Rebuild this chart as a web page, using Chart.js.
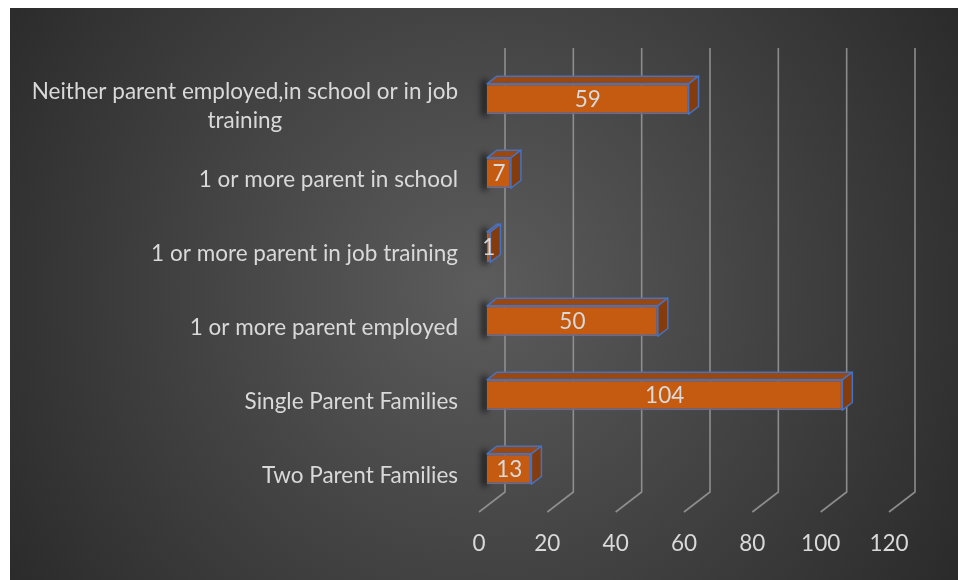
<!DOCTYPE html>
<html>
<head>
<meta charset="utf-8">
<script src="https://cdn.jsdelivr.net/npm/chart.js@4"></script>
<style>
  html, body { margin: 0; padding: 0; background: #fff; }
  #wrap { position: absolute; left: 10px; top: 8px; width: 948px; height: 572px; }
</style>
</head>
<body>
<div id="wrap"><canvas id="familyChart" width="948" height="572"></canvas></div>
<script>
// bottom-to-top order, y axis is reversed below
const categories = [
    'Two Parent Families',
    'Single Parent Families',
    '1 or more parent employed',
    '1 or more parent in job training',
    '1 or more parent in school',
    ['Neither parent employed,in school or in job', 'training']
];
const familyCounts = [13, 104, 50, 1, 7, 59];
const xTicks = [0, 20, 40, 60, 80, 100, 120];

// 3D offsets relative to the bar front faces
const BACK = { dx: 18, dy: -14 };
const FRONT = { dx: -8, dy: 6 };
const DEPTH = { dx: 10, dy: -7.7 };

const TEXT_COLOR = '#d9d9d9';
const FONT = '"Lato", "Open Sans", sans-serif';
const FONT_SIZE = 22.5;

const bar3d = {
    id: 'bar3d',
    beforeDraw(chart) {
        const ctx = chart.ctx;
        const w = chart.width, h = chart.height;
        const g = ctx.createRadialGradient(470, 280, 0, 470, 280, 620);
        g.addColorStop(0, '#5c5c5c');
        g.addColorStop(1, '#252525');
        ctx.save();
        ctx.fillStyle = g;
        ctx.fillRect(0, 0, w, h);
        ctx.restore();
    },
    beforeDatasetsDraw(chart) {
        const ctx = chart.ctx;
        const xs = chart.scales.x;
        const area = chart.chartArea;
        ctx.save();
        ctx.strokeStyle = 'rgba(150,150,150,0.9)';
        ctx.lineWidth = 1.6;
        xTicks.forEach(v => {
            const x = xs.getPixelForValue(v);
            ctx.beginPath();
            ctx.moveTo(x + BACK.dx, area.top + BACK.dy);
            ctx.lineTo(x + BACK.dx, area.bottom + BACK.dy);
            ctx.lineTo(x + FRONT.dx, area.bottom + FRONT.dy);
            ctx.stroke();
        });
        // soft shadow on the left end of each bar
        const meta = chart.getDatasetMeta(0);
        ctx.filter = 'blur(3px)';
        ctx.fillStyle = 'rgba(0,0,0,0.75)';
        meta.data.forEach(bar => {
            const p = bar.getProps(['x', 'y', 'base', 'height'], true);
            const top = p.y - p.height / 2, bottom = p.y + p.height / 2;
            ctx.fillRect(p.base - 5, top - 4, 5, bottom - top + 6);
        });
        ctx.restore();
    },
    afterDatasetsDraw(chart) {
        const ctx = chart.ctx;
        const meta = chart.getDatasetMeta(0);
        ctx.save();
        ctx.strokeStyle = '#4472c4';
        ctx.lineWidth = 1.5;
        ctx.lineJoin = 'round';
        meta.data.forEach((bar, i) => {
            const p = bar.getProps(['x', 'y', 'base', 'height'], true);
            const left = p.base, right = p.x;
            const top = p.y - p.height / 2, bottom = p.y + p.height / 2;

            ctx.beginPath();
            ctx.moveTo(left, top);
            ctx.lineTo(left + DEPTH.dx, top + DEPTH.dy);
            ctx.lineTo(right + DEPTH.dx, top + DEPTH.dy);
            ctx.lineTo(right, top);
            ctx.closePath();
            ctx.fillStyle = '#9a4812';
            ctx.fill();
            ctx.stroke();

            ctx.beginPath();
            ctx.moveTo(right, top);
            ctx.lineTo(right + DEPTH.dx, top + DEPTH.dy);
            ctx.lineTo(right + DEPTH.dx, bottom + DEPTH.dy);
            ctx.lineTo(right, bottom);
            ctx.closePath();
            ctx.fillStyle = '#843c0c';
            ctx.fill();
            ctx.stroke();

            ctx.fillStyle = TEXT_COLOR;
            ctx.font = FONT_SIZE + 'px ' + FONT;
            ctx.textAlign = 'center';
            ctx.textBaseline = 'middle';
            ctx.fillText(String(familyCounts[i]), (left + right) / 2, p.y + 1);
        });
        ctx.restore();
    },
    afterDraw(chart) {
        const ctx = chart.ctx;
        const ys = chart.scales.y;
        const right = chart.chartArea.left - 29;
        const lineH = 29;
        ctx.save();
        ctx.fillStyle = TEXT_COLOR;
        ctx.font = FONT_SIZE + 'px ' + FONT;
        ctx.textAlign = 'center';
        ctx.textBaseline = 'middle';
        categories.forEach((label, i) => {
            const lines = Array.isArray(label) ? label : [label];
            const w = Math.max(...lines.map(l => ctx.measureText(l).width));
            const cx = right - w / 2;
            const y0 = ys.getPixelForValue(i) + FRONT.dy + 1 - (lines.length - 1) * lineH / 2;
            lines.forEach((l, k) => ctx.fillText(l, cx, y0 + k * lineH));
        });
        ctx.restore();
    }
};

new Chart(document.getElementById('familyChart'), {
    type: 'bar',
    data: {
        labels: categories,
        datasets: [{
            data: familyCounts,
            backgroundColor: '#c55a11',
            borderColor: '#4472c4',
            borderWidth: 1.5,
            barPercentage: 0.41,
            categoryPercentage: 1
        }]
    },
    options: {
        indexAxis: 'y',
        responsive: false,
        animation: false,
        layout: {
            padding: { left: 477, right: 61, top: 54, bottom: 25 }
        },
        plugins: {
            legend: { display: false },
            tooltip: { enabled: false }
        },
        scales: {
            x: {
                min: 0,
                max: 120,
                afterBuildTicks(scale) {
                    scale.ticks = xTicks.map(v => ({ value: v }));
                },
                afterFit(scale) {
                    scale.height = 49;
                },
                grid: { display: false, drawTicks: false },
                border: { display: false },
                ticks: {
                    color: TEXT_COLOR,
                    font: { family: FONT, size: FONT_SIZE },
                    padding: 24,
                    labelOffset: FRONT.dx,
                    maxRotation: 0
                }
            },
            y: {
                display: false,
                reverse: true
            }
        }
    },
    plugins: [bar3d]
});
</script>
</body>
</html>
